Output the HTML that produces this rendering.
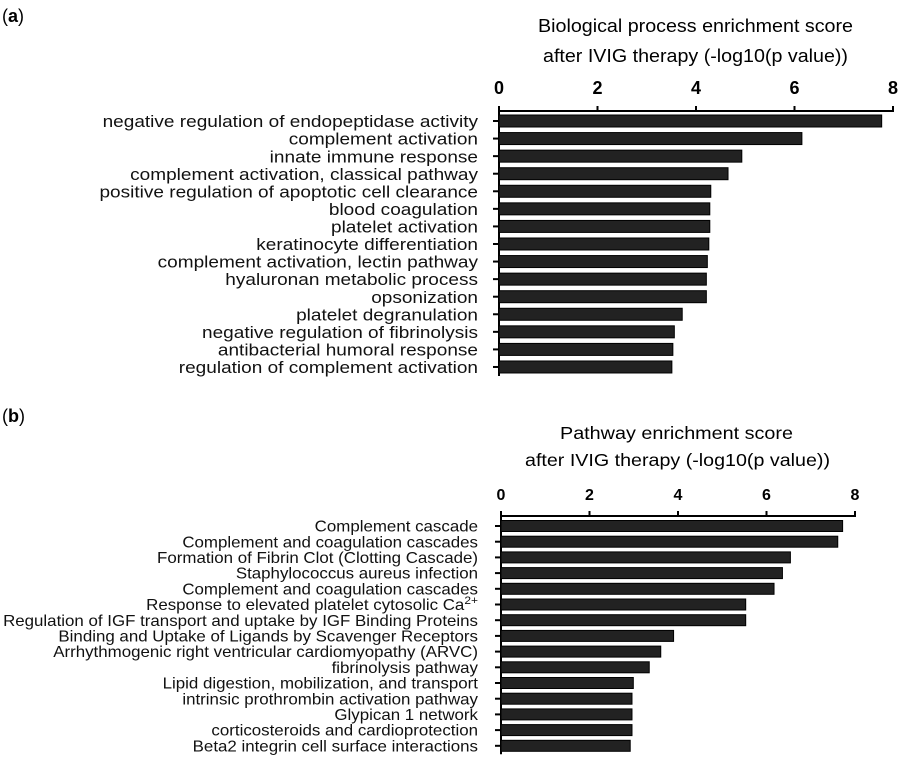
<!DOCTYPE html>
<html><head><meta charset="utf-8"><style>
html,body{margin:0;padding:0;background:#fff;}
svg{display:block;font-family:"Liberation Sans",Arial,sans-serif;}
</style></head><body>
<svg id="c" width="900" height="759"></svg>
<script>
const labelsA=["negative regulation of endopeptidase activity","complement activation","innate immune response","complement activation, classical pathway","positive regulation of apoptotic cell clearance","blood coagulation","platelet activation","keratinocyte differentiation","complement activation, lectin pathway","hyaluronan metabolic process","opsonization","platelet degranulation","negative regulation of fibrinolysis","antibacterial humoral response","regulation of complement activation"];
const valuesA=[7.77,6.15,4.93,4.65,4.30,4.28,4.28,4.26,4.23,4.21,4.21,3.72,3.56,3.53,3.51];
const labelsB=["Complement cascade","Complement and coagulation cascades","Formation of Fibrin Clot (Clotting Cascade)","Staphylococcus aureus infection","Complement and coagulation cascades","Response to elevated platelet cytosolic Ca","Regulation of IGF transport and uptake by IGF Binding Proteins","Binding and Uptake of Ligands by Scavenger Receptors","Arrhythmogenic right ventricular cardiomyopathy (ARVC)","fibrinolysis pathway","Lipid digestion, mobilization, and transport","intrinsic prothrombin activation pathway","Glypican 1 network","corticosteroids and cardioprotection","Beta2 integrin cell surface interactions"];
const valuesB=[7.72,7.61,6.54,6.36,6.17,5.53,5.53,3.90,3.61,3.35,2.99,2.96,2.96,2.96,2.92];
const ticks=[0,2,4,6,8];
const NS="http://www.w3.org/2000/svg";
const svg=document.getElementById('c');
function mk(t,a,txt,parent){const e=document.createElementNS(NS,t);for(const k in a)e.setAttribute(k,a[k]);if(txt!=null)e.textContent=txt;(parent||svg).appendChild(e);return e;}
function panel(p,labels,values){
  const x=v=>p.x0+(p.x1-p.x0)*v/8;
  const y=i=>p.y0+i*p.step;
  let e=mk('text',{x:2,y:p.letterY,'font-size':18},'');
  e.innerHTML='(<tspan font-weight="bold">'+p.letter+'</tspan>)';
  
  
  p.title.forEach((t,k)=>{const tt=mk('text',{x:p.tl[k][0],y:p.tl[k][2],'font-size':p.tfs,textLength:p.tl[k][1]-p.tl[k][0],lengthAdjust:'spacingAndGlyphs'},t);
    
    });
  const ax=mk('line',{x1:x(0),x2:x(8)+1,y1:p.axisY,y2:p.axisY,stroke:'#000','stroke-width':2});
  
  
  mk('line',{x1:x(0),x2:x(0),y1:p.axisY,y2:y(labels.length-1)+p.bh/2+3,stroke:'#000','stroke-width':2});
  ticks.forEach(t=>{
    mk('line',{x1:x(t),x2:x(t),y1:p.axisY,y2:p.axisY-5,stroke:'#000','stroke-width':2});
    const tl=mk('text',{x:x(t),y:p.tickY,'font-size':p.tkfs,'font-weight':'bold','text-anchor':'middle'},t);
    
    
  });
  const g=mk('g',{transform:'translate('+p.lx+',0) scale('+p.sx+',1)'});
  labels.forEach((l,i)=>{
    mk('line',{x1:x(0)-6,x2:x(0),y1:y(i),y2:y(i),stroke:'#000','stroke-width':2});
    const r=mk('rect',{x:x(0),y:y(i)-p.bh/2,width:x(values[i])-x(0),height:p.bh,fill:'#222',stroke:'#000','stroke-width':1});
    
    
    const tx=mk('text',{x:0,y:y(i)+p.fs*0.36,'font-size':p.fs,'text-anchor':'end',fill:'#111'},l,g);
    if(p.letter==='b'&&i===5){const s=document.createElementNS(NS,'tspan');s.setAttribute('dy',-6);s.setAttribute('font-size',11);s.textContent='2+';tx.appendChild(s);}
    
    
  });
}
panel({letter:'a',letterY:22,x0:499,x1:893,axisY:111,tickY:94,tkfs:18,y0:121,step:17.57,bh:12,lx:478,fs:17,sx:1.12,tfs:18.5,
  tl:[[538,853,32],[543,848,62]],title:["Biological process enrichment score","after IVIG therapy (-log10(p value))"]},labelsA,valuesA);
panel({letter:'b',letterY:422,x0:501,x1:855,axisY:516,tickY:500,tkfs:16,y0:526,step:15.7,bh:11,lx:478,fs:15.5,sx:1.09,tfs:17.5,
  tl:[[560,793,439],[525,830,466]],title:["Pathway  enrichment score","after IVIG therapy (-log10(p value))"]},labelsB,valuesB);
</script>
</body></html>
